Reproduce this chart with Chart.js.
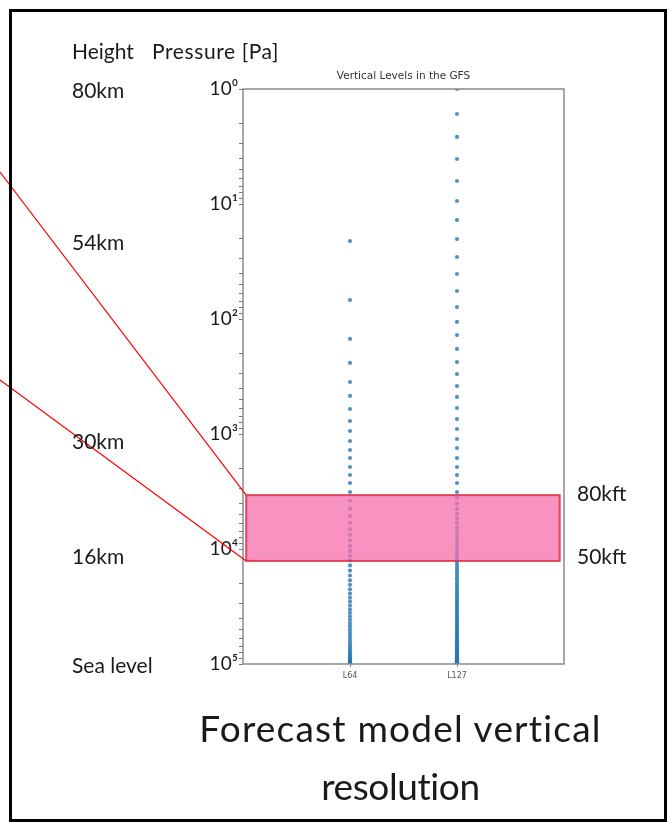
<!DOCTYPE html>
<html>
<head>
<meta charset="utf-8">
<script src="https://cdn.jsdelivr.net/npm/chart.js@4.4.1/dist/chart.umd.min.js"></script>
<style>
  html, body { margin:0; padding:0; background:#fff; }
  body { width:667px; height:822px; position:relative; overflow:hidden; font-family: Lato, "Noto Sans", sans-serif; color:#1a1a1a; }
  #slideBorder { position:absolute; left:9px; top:9px; width:652px; height:807px; border:3px solid #000; box-sizing:content-box; }
  .lbl { position:absolute; line-height:1; white-space:nowrap; transform:translateY(-50%); font-size:21px; }
  .caption { position:absolute; left:67px; width:667px; text-align:center; font-size:37px; line-height:1; transform:translateY(-50%); white-space:nowrap; }
  #gfsTitle { position:absolute; left:243px; width:321px; text-align:center; top:69px; font-size:10.5px; color:#333; font-family: "DejaVu Sans", sans-serif; }
  #wrap { position:absolute; left:0; top:0; width:667px; height:822px; }
</style>
</head>
<body>
<div id="wrap"><canvas id="c" width="667" height="822" style="width:667px;height:822px"></canvas></div>
<div id="slideBorder"></div>
<div id="gfsTitle">Vertical Levels in the GFS</div>
<div class="lbl" style="left:72px; top:50px;">Height</div>
<div class="lbl" style="left:152px; top:50px; letter-spacing:0.6px;">Pressure [Pa]</div>
<div class="lbl" style="left:72px; top:89px;">80km</div>
<div class="lbl" style="left:72px; top:241px;">54km</div>
<div class="lbl" style="left:72px; top:440px;">30km</div>
<div class="lbl" style="left:72px; top:555px;">16km</div>
<div class="lbl" style="left:72px; top:664px;">Sea level</div>
<div class="lbl" style="left:577px; top:492px;">80kft</div>
<div class="lbl" style="left:577px; top:555px;">50kft</div>
<div class="caption" style="top:727px; letter-spacing:1.2px;">Forecast model vertical</div>
<div class="caption" style="top:785px; letter-spacing:-0.4px;">resolution</div>
<script>
// ---- data (pressure in Pa) ----
const categories = ['L64', 'L127'];

const levelsL64 = [
  21.0, 68.4, 149, 241, 353, 467, 606, 771, 942, 1150, 1377, 1617, 1936, 2273, 2668, 3194,
  3800, 4450, 5150, 5900, 6700, 7550, 8450, 9400, 10400, 11450, 12550,
  13900, 15400, 17000, 18700, 20500, 22400, 24400, 26500, 28700, 31000, 33400, 35900, 38500,
  41200, 44000, 46900, 49900, 53000, 56200, 59500, 62900, 66300, 69700, 73000, 76200, 79300,
  82200, 84900, 87400, 89700, 91800, 93700, 95400, 96900, 98200, 99200, 99850
];

const levelsL127 = [
  1.0, 1.65, 2.61, 4.06, 6.31, 9.42, 13.8, 20.2, 28.9, 40.6, 57.1, 78.7, 106, 138, 182, 237,
  301, 383, 476, 594, 741, 905, 1105, 1324, 1618, 1936, 2274, 2667, 3194,
  3600, 4030, 4480, 4950, 5440, 5950, 6480, 7030, 7600, 8190, 8800, 9430, 10080, 10750, 11440, 12150, 12880,
  13650, 14450, 15280, 16140, 17030, 17950, 18900, 19880, 20890, 21930, 23000, 24100, 25230, 26390,
  27580, 28800, 30050, 31330, 32640, 33980, 35350, 36750, 38180, 39640, 41130, 42650, 44200, 45780,
  47390, 49030, 50700, 52400, 54120, 55860, 57610, 59370, 61140, 62910, 64680, 66440, 68190, 69920,
  71630, 73310, 74960, 76570, 78140, 79660, 81130, 82540, 83890, 85180, 86410, 87580, 88690, 89740,
  90730, 91660, 92530, 93340, 94090, 94790, 95440, 96040, 96590, 97090, 97540, 97950, 98320, 98650,
  98940, 99190, 99400, 99570, 99700, 99790, 99850, 99895, 99930, 99955, 99975
];

const yTickValues = [1, 10, 100, 1000, 10000, 100000];
const yTickLabels = ['10\u2070', '10\u00b9', '10\u00b2', '10\u00b3', '10\u2074', '10\u2075'];
const bandPressure = [3400, 12700];   // 80 kft .. 50 kft
const bandX = [0.03, 2.96];

// ---- chart ----
const allLevels = [levelsL64, levelsL127];
const datasets = categories.map((name, i) => ({
  label: name,
  data: allLevels[i].map(p => ({ x: i + 1, y: p })),
  backgroundColor: 'rgba(40,120,180,0.8)',
  borderColor: 'rgba(40,120,180,0.8)',
  pointStyle: 'circle',
  pointRadius: 2.1,
  pointBorderWidth: 0
}));

const overlayPlugin = {
  id: 'overlay',
  afterDatasetsDraw(chart) {
    const { ctx, chartArea: a, scales } = chart;
    const xs = scales.x, ys = scales.y;
    const x0 = xs.getPixelForValue(bandX[0]);
    const x1 = xs.getPixelForValue(bandX[1]);
    const yTop = ys.getPixelForValue(bandPressure[0]);
    const yBot = ys.getPixelForValue(bandPressure[1]);
    ctx.save();
    ctx.fillStyle = 'rgba(246,112,172,0.76)';
    ctx.fillRect(x0, yTop, x1 - x0, yBot - yTop);
    ctx.strokeStyle = 'rgba(222,45,65,0.85)';
    ctx.lineWidth = 2;
    ctx.strokeRect(x0, yTop, x1 - x0, yBot - yTop);
    ctx.strokeStyle = '#8a8a8a';
    ctx.lineWidth = 1.5;
    ctx.strokeRect(a.left, a.top, a.right - a.left, a.bottom - a.top);
    ctx.restore();
  },
  afterDraw(chart) {
    const { ctx, scales } = chart;
    const x0 = scales.x.getPixelForValue(bandX[0]);
    const yTop = scales.y.getPixelForValue(bandPressure[0]);
    const yBot = scales.y.getPixelForValue(bandPressure[1]);
    ctx.save();
    ctx.strokeStyle = '#ff0000';
    ctx.lineWidth = 1.2;
    ctx.beginPath();
    ctx.moveTo(0, 172); ctx.lineTo(x0, yTop);
    ctx.moveTo(0, 380); ctx.lineTo(x0, yBot);
    ctx.stroke();
    ctx.restore();
  }
};

new Chart(document.getElementById('c'), {
  type: 'scatter',
  data: { datasets },
  options: {
    responsive: false,
    animation: false,
    devicePixelRatio: 1,
    layout: { padding: { left: 203, right: 103, top: 89, bottom: 134 } },
    plugins: { legend: { display: false }, tooltip: { enabled: false } },
    scales: {
      x: {
        type: 'linear',
        min: 0, max: 3,
        border: { display: false },
        grid: { drawOnChartArea: false, drawTicks: true, tickLength: 3, color: '#888' },
        afterFit(s) { s.height = 24; },
        afterBuildTicks(s) { s.ticks = categories.map((c, i) => ({ value: i + 1 })); },
        ticks: {
          padding: 4,
          font: { family: 'DejaVu Sans', size: 8 },
          color: '#555',
          callback: v => categories[v - 1] ?? ''
        }
      },
      y: {
        type: 'logarithmic',
        reverse: true,
        min: 1, max: 100000,
        border: { display: false },
        grid: { drawOnChartArea: false, drawTicks: true, tickLength: 4, color: '#777' },
        afterFit(s) { s.width = 40; },
        afterBuildTicks(s) {
          const t = [];
          yTickValues.forEach((v, i) => {
            t.push({ value: v, major: true });
            if (i < yTickValues.length - 1) {
              for (let m = 2; m <= 9; m++) t.push({ value: v * m });
            }
          });
          s.ticks = t;
        },
        ticks: {
          autoSkip: false,
          padding: 1,
          font: { family: 'Lato, "DejaVu Sans"', size: 19 },
          color: '#1a1a1a',
          callback: v => { const k = yTickValues.indexOf(v); return k >= 0 ? yTickLabels[k] : ''; }
        }
      }
    }
  },
  plugins: [overlayPlugin]
});
</script>
</body>
</html>
